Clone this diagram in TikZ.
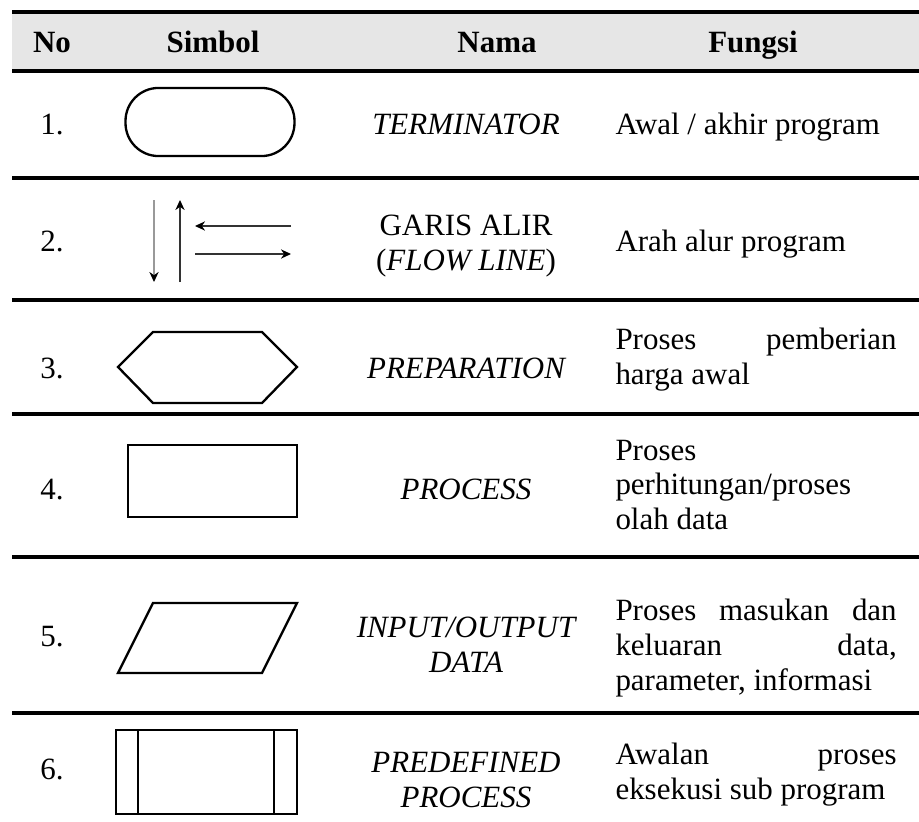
\documentclass[tikz,border=0pt]{standalone}
\usepackage{fontspec}
\setmainfont{Liberation Serif}
\usetikzlibrary{arrows.meta}
\newcommand{\tsz}{\fontsize{12}{13.5}\selectfont\hyphenpenalty=10000\exhyphenpenalty=10000\tolerance=10000\relax}
\definecolor{hdgray}{HTML}{E6E6E6}
\begin{document}
\begin{tikzpicture}[x=0.3876pt,y=-0.3876pt,
  rulel/.style={line width=1.2pt},
  shp/.style={draw, line width=0.9pt},
  hd/.style={font=\tsz\bfseries, anchor=base, inner sep=0pt},
  num/.style={font=\tsz, anchor=base, inner sep=0pt},
  nm/.style={font=\tsz\itshape, align=center, inner sep=0pt},
  fn/.style={font=\tsz, text width=109pt, align=justify, anchor=west, inner sep=0pt},
  flow/.style={line width=0.45pt, draw=black!80, -{Stealth[length=3.9pt,width=3.6pt,color=black]}}]
\useasboundingbox (0,0) rectangle (919,822);
% header
\fill[hdgray] (12,12) rectangle (919,71);
\coordinate (t0) at (12,12);   \coordinate (t1) at (919,12);
\coordinate (h0) at (12,71);   \coordinate (h1) at (919,71);
\draw[rulel] (t0) -- (t1);
\draw[rulel] (h0) -- (h1);
\node[hd] (hno) at (52,53) {No};
\node[hd] (hsim) at (213,53) {Simbol};
\node[hd] (hnama) at (497,53) {Nama};
\node[hd] (hfun) at (753,53) {Fungsi};
% row rules
\foreach \y/\n in {178/a,300/b,414/c,557/d,713/e}{
  \coordinate (r\n0) at (12,\y); \coordinate (r\n1) at (919,\y);
  \draw[rulel] (r\n0) -- (r\n1);
}
% row 1
\node[num] (n1) at (52,134) {1.};
\node[shp, rounded corners=12.8pt, minimum width=65.5pt, minimum height=26.4pt] (term) at (210,122) {};
\node[nm, anchor=base] (nm1) at (466,134) {TERMINATOR};
\node[fn, anchor=base west] (f1) at (615,134) {Awal / akhir program};
% row 2
\node[num] (n2) at (52,252) {2.};
\coordinate (da) at (154,200); \coordinate (db) at (154,282);
\coordinate (ua) at (180,282); \coordinate (ub) at (180,200);
\coordinate (la) at (291,226); \coordinate (lb) at (195,226);
\coordinate (ra) at (195,254); \coordinate (rb) at (291,254);
\draw[flow, draw=black!40] (da) -- (db);
\draw[flow] (ua) -- (ub);
\draw[flow] (la) -- (lb);
\draw[flow] (ra) -- (rb);
\node[nm, font=\tsz] (nm2) at (466,246) {GARIS ALIR\\(\textit{FLOW LINE})};
\node[fn, anchor=base west] (f2) at (615,252) {Arah alur program};
% row 3
\node[num] (n3) at (52,378) {3.};
\draw[shp] (118,367) -- (153,332) -- (262,332) -- (297,367) -- (262,403) -- (153,403) -- cycle;
\node[nm, anchor=base] (nm3) at (466,378) {PREPARATION};
\node[fn] (f3) at (615,360) {Proses pemberian harga awal};
% row 4
\node[num] (n4) at (52,499) {4.};
\draw[shp] (128,445) rectangle (297,517);
\node[nm, anchor=base] (nm4) at (466,499) {PROCESS};
\node[fn] (f4) at (615,485) {Proses perhitungan/proses olah data};
% row 5
\node[num] (n5) at (52,646) {5.};
\draw[shp] (153,603) -- (297,603) -- (262,673) -- (118,673) -- cycle;
\node[nm] (nm5) at (466,645) {INPUT/OUTPUT\\DATA};
\node[fn] (f5) at (615,648) {Proses masukan dan keluaran data, parameter, informasi};
% row 6
\node[num] (n6) at (52,779) {6.};
\draw[shp] (116,730) rectangle (297,814);
\coordinate (p1a) at (138,730); \coordinate (p1b) at (138,814);
\coordinate (p2a) at (274,730); \coordinate (p2b) at (274,814);
\draw[shp] (p1a) -- (p1b);
\draw[shp] (p2a) -- (p2b);
\node[nm] (nm6) at (466,780) {PREDEFINED\\PROCESS};
\node[fn] (f6) at (615,775) {Awalan proses eksekusi sub program};
\end{tikzpicture}
\end{document}
